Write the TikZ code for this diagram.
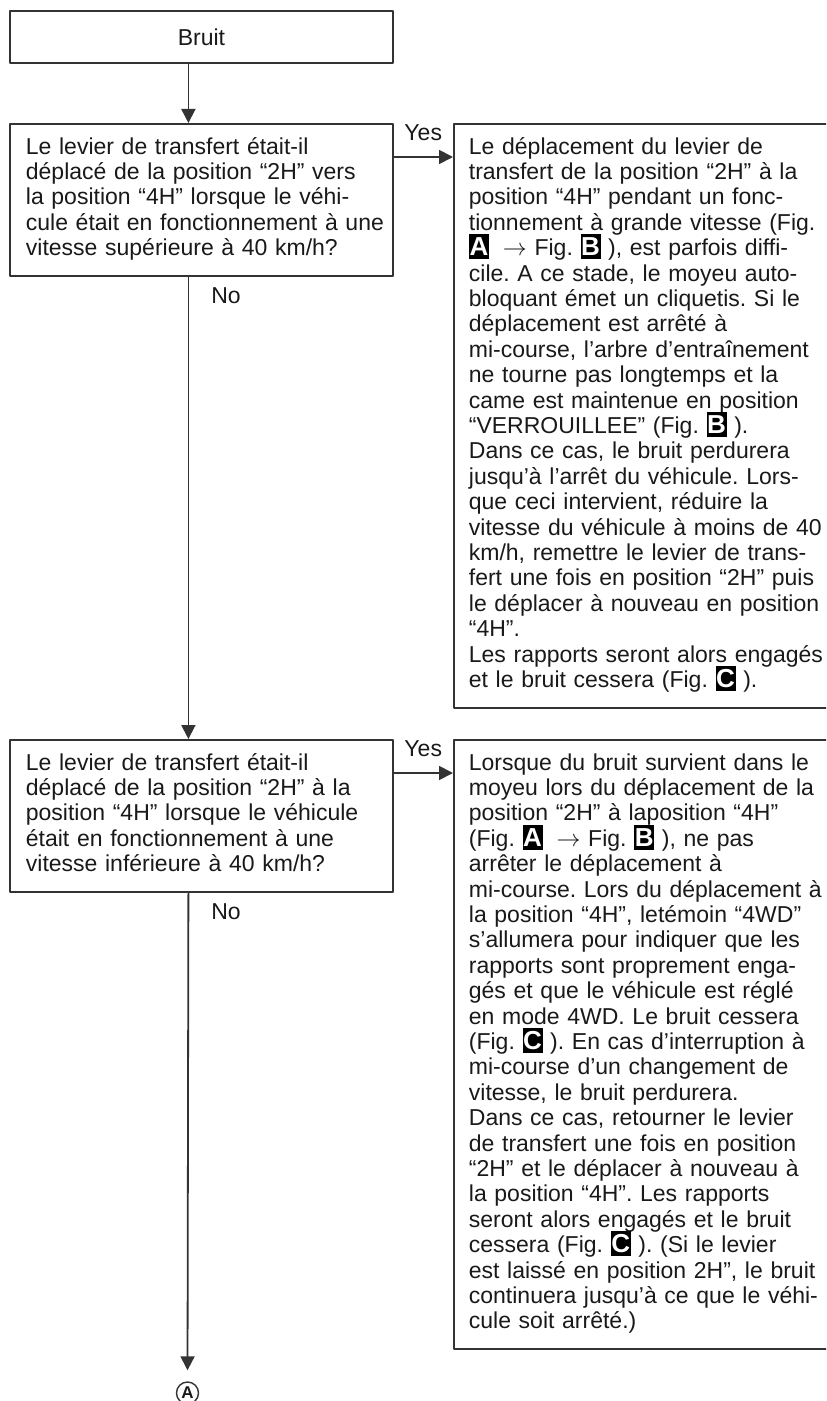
\documentclass[tikz,border=0pt]{standalone}
\usepackage{fontspec}
\setmainfont{Liberation Sans}
\usetikzlibrary{arrows.meta}

% black key letter used in the answers (Fig. A, B, C)
\newcommand{\figkey}[1]{\raisebox{0pt}[8pt][0pt]{\setlength{\fboxsep}{0pt}\colorbox{black}{\makebox[10pt]{\rule[-1.8pt]{0pt}{12.5pt}\color{white}\fontsize{13}{13}\selectfont\bfseries #1}}}}

\begin{document}
\frenchspacing
\begin{tikzpicture}[x=0.5pt, y=-0.5pt, line cap=round, line join=round,
		>={Triangle[width=7pt,length=7pt]},
		every node/.style={text=black!90},
		frame/.style={draw=black!80, line width=0.9pt, anchor=north west,
			text width=191.2pt, inner xsep=0pt, inner ysep=6.25pt,
			font=\fontsize{11.5}{12.7}\selectfont},
		box/.style={frame, align=left, execute at begin node={\leftskip=7.85pt}},
		answer/.style={frame, align=left, text width=210pt,
			execute at begin node={\leftskip=7.5pt}},
		link/.style={draw=black!80, line width=0.9pt},
		lbl/.style={font=\fontsize{11.5}{12.7}\selectfont}]
			% Window of the chart (page size in px)
			\useasboundingbox (0,0) rectangle (826,1401);
			\clip (0,0) rectangle (826,1401);
			
			% Start box
			\node[frame, align=center, minimum height=26pt] (bruit) at (9.3,10) {Bruit};
			
			% First question and its answer
			\node[box] (q1) at (9.3,123) {\strut Le levier de transfert était-il\\
				déplacé de la position “2H” vers\\
				la position “4H” lorsque le véhi-\\
				cule était en fonctionnement à une\\
				vitesse supérieure à 40 km/h?\strut};
			\node[answer] (a1) at (453,123) {\strut Le déplacement du levier de\\
				transfert de la position “2H” à la\\
				position “4H” pendant un fonc-\\
				tionnement à grande vitesse (Fig.\\
				\figkey{A}\hspace{7pt}$\rightarrow$ Fig. \figkey{B} ), est parfois diffi-\\
				cile. A ce stade, le moyeu auto-\\
				bloquant émet un cliquetis. Si le\\
				déplacement est arrêté à\\
				mi-course, l’arbre d’entraînement\\
				ne tourne pas longtemps et la\\
				came est maintenue en position\\
				“VERROUILLEE” (Fig. \figkey{B} ).\\
				Dans ce cas, le bruit perdurera\\
				jusqu’à l’arrêt du véhicule. Lors-\\
				que ceci intervient, réduire la\\
				vitesse du véhicule à moins de 40\\
				km/h, remettre le levier de trans-\\
				fert une fois en position “2H” puis\\
				le déplacer à nouveau en position\\
				“4H”.\\
				Les rapports seront alors engagés\\
				et le bruit cessera (Fig. \figkey{C} ).\strut};
			
			% Second question and its answer
			\node[box] (q2) at (9.3,739) {\strut Le levier de transfert était-il\\
				déplacé de la position “2H” à la\\
				position “4H” lorsque le véhicule\\
				était en fonctionnement à une\\
				vitesse inférieure à 40 km/h?\strut};
			\node[answer] (a2) at (453,739) {\strut Lorsque du bruit survient dans le\\
				moyeu lors du déplacement de la\\
				position “2H” à laposition “4H”\\
				(Fig. \figkey{A}\hspace{7pt}$\rightarrow$ Fig. \figkey{B} ), ne pas\\
				arrêter le déplacement à\\
				mi-course. Lors du déplacement à\\
				la position “4H”, letémoin “4WD”\\
				s’allumera pour indiquer que les\\
				rapports sont proprement enga-\\
				gés et que le véhicule est réglé\\
				en mode 4WD. Le bruit cessera\\
				(Fig. \figkey{C} ). En cas d’interruption à\\
				mi-course d’un changement de\\
				vitesse, le bruit perdurera.\\
				Dans ce cas, retourner le levier\\
				de transfert une fois en position\\
				“2H” et le déplacer à nouveau à\\
				la position “4H”. Les rapports\\
				seront alors engagés et le bruit\\
				cessera (Fig. \figkey{C} ). (Si le levier\\
				est laissé en position 2H”, le bruit\\
				continuera jusqu’à ce que le véhi-\\
				cule soit arrêté.)\strut};
			
			% Exit mark
			\node[circle, draw=black!80, line width=0.7pt, minimum size=11pt, inner sep=0pt,
				font=\bfseries\fontsize{8.5}{8.5}\selectfont] (endA) at (187.5,1393) {A};
			
			% Connectors
			\draw[link, ->] ([xshift=-6.5pt]bruit.south) -- ([xshift=-6.5pt]q1.north);
			\draw[link, ->] ([yshift=-17pt]q1.north east) -- ([yshift=-17pt]a1.north west)
				node[lbl, midway, above=4.5pt] {Yes};
			\draw[link, ->] ([xshift=-6.5pt]q1.south) -- ([xshift=-6.5pt]q2.north)
				node[lbl, pos=0, anchor=north west, inner sep=0pt, xshift=11pt, yshift=-5pt] {No};
			\draw[link, ->] ([yshift=-17pt]q2.north east) -- ([yshift=-17pt]a2.north west)
				node[lbl, midway, above=4.5pt] {Yes};
			\draw[link, ->, shorten >=5.5pt] ([xshift=-6.5pt]q2.south) -- (endA.north)
				node[lbl, pos=0, anchor=north west, inner sep=0pt, xshift=11pt, yshift=-5pt] {No};
		\end{tikzpicture}
\end{document}
